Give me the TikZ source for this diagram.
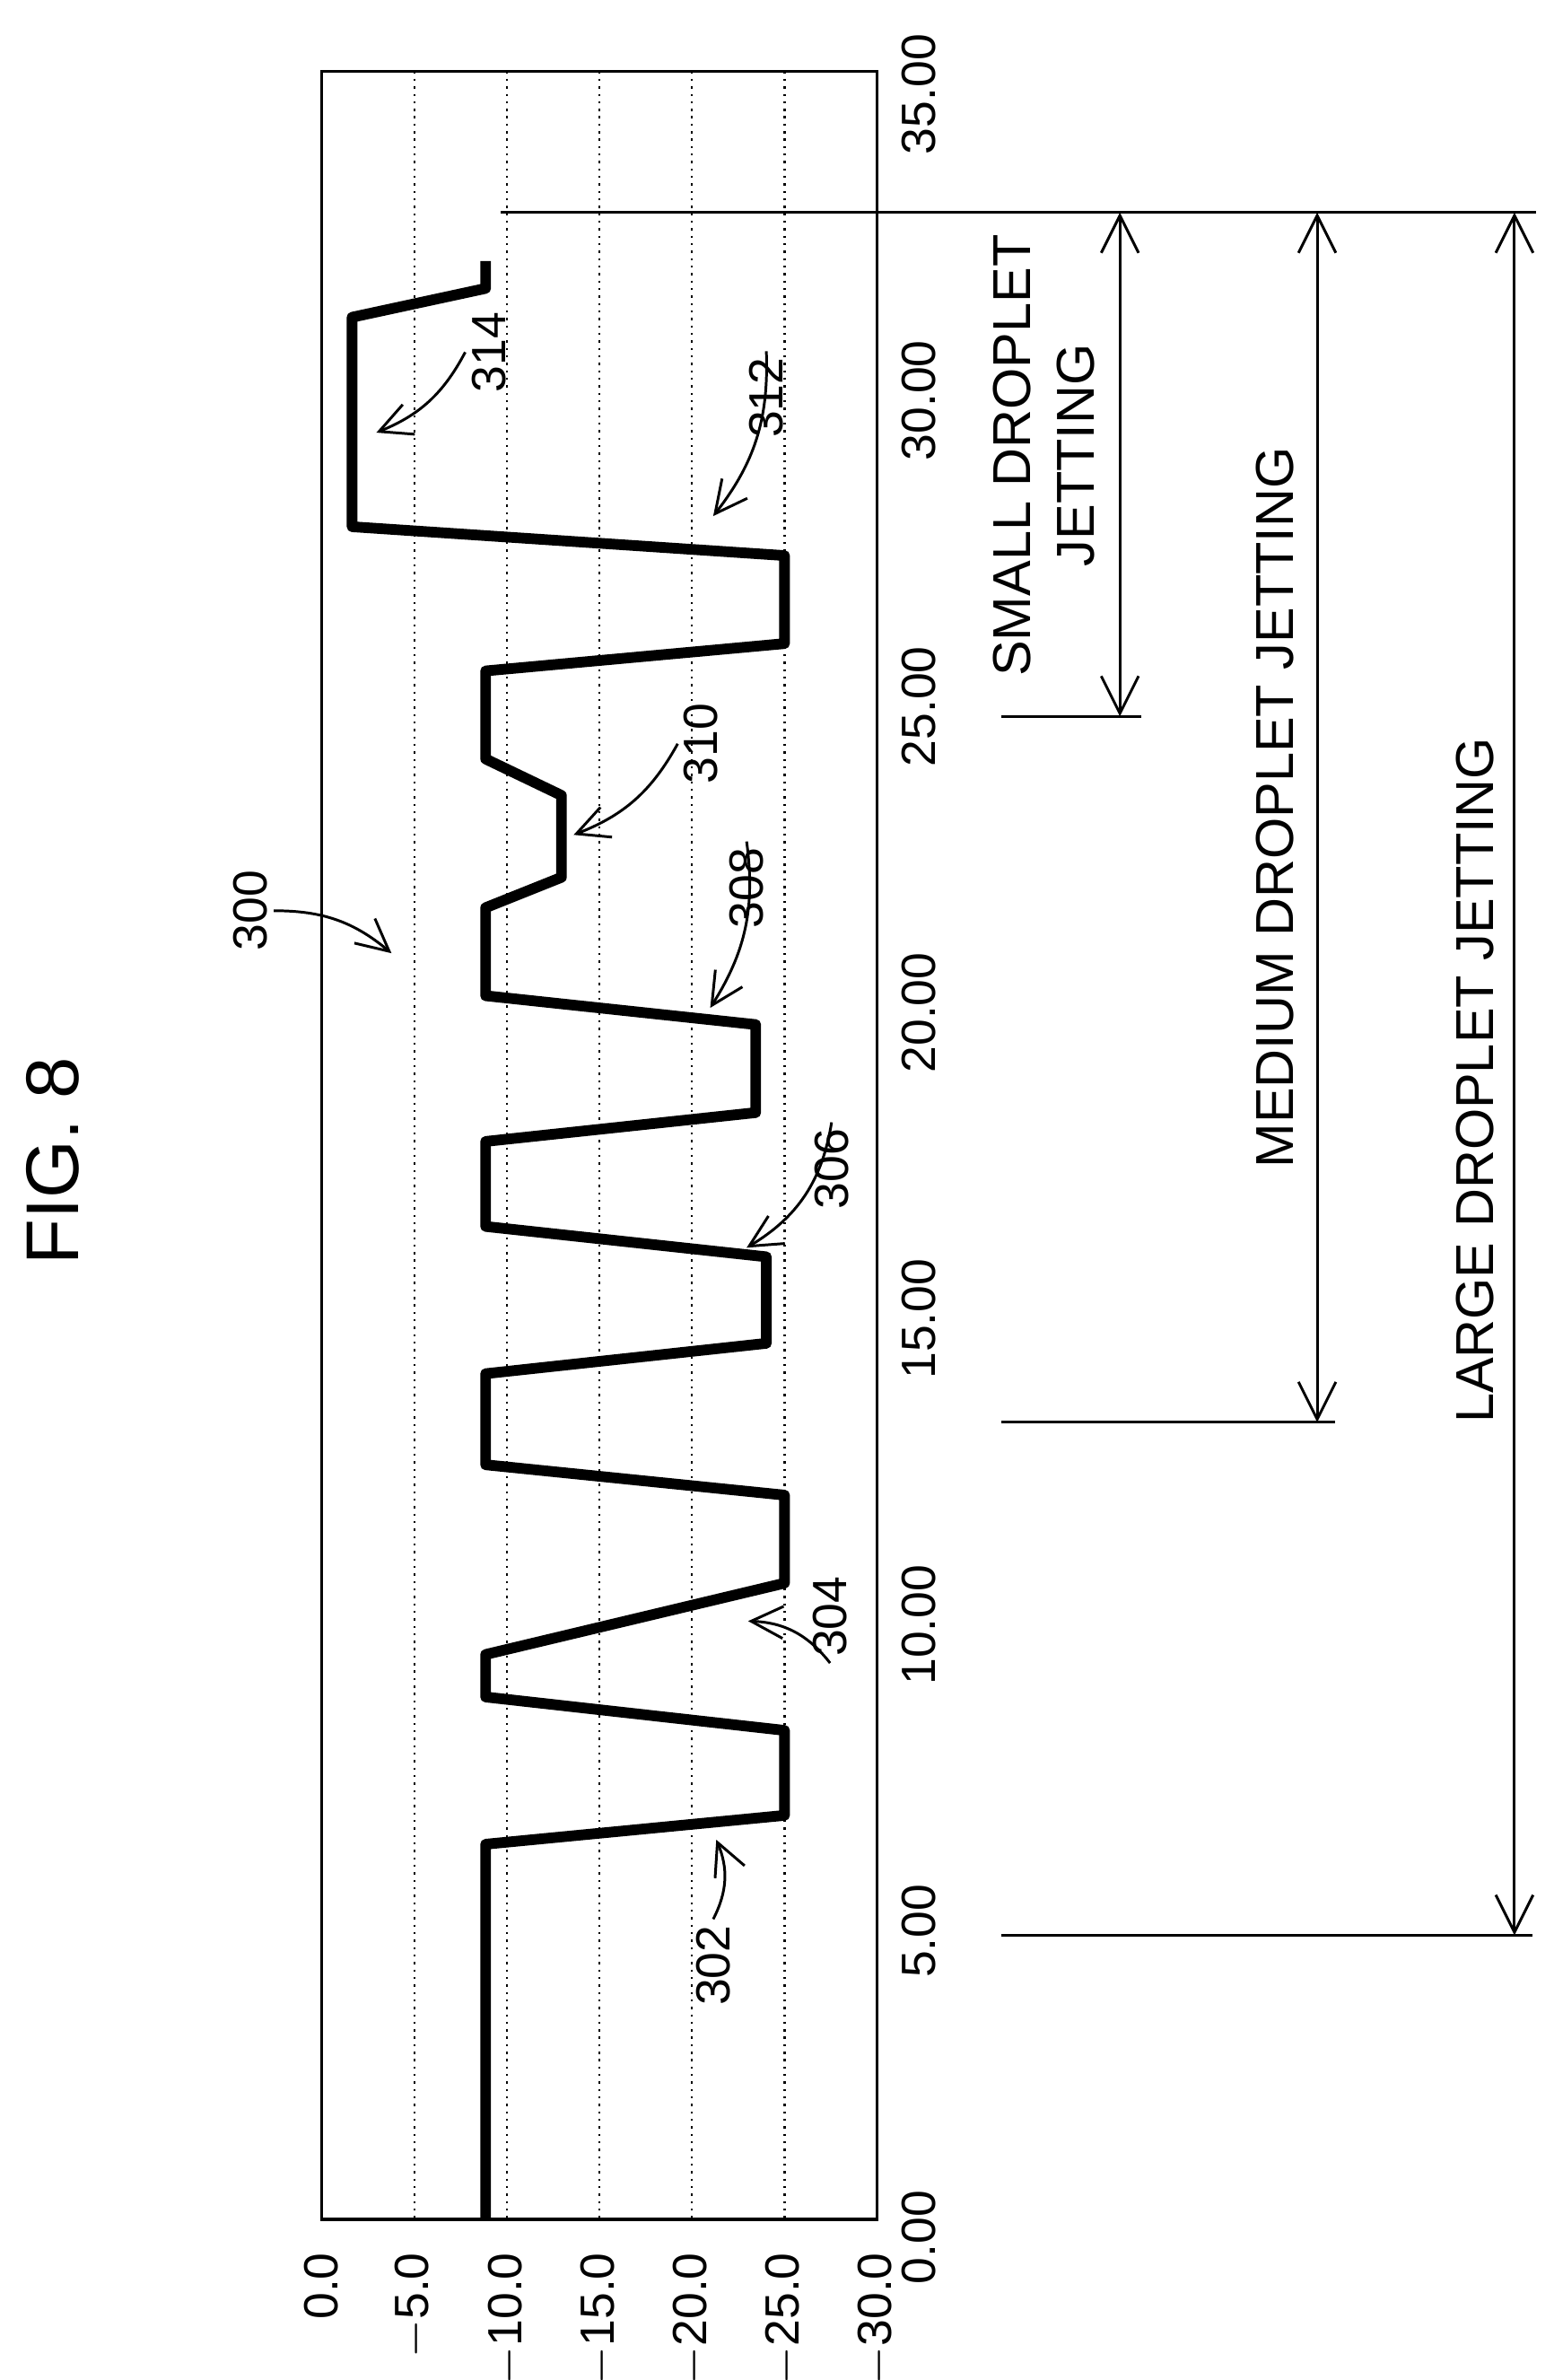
\documentclass[tikz,border=0pt]{standalone}
\usepackage{fontspec}
\setmainfont{Liberation Sans}
\usetikzlibrary{arrows.meta}
\begin{document}
\begin{tikzpicture}[x=0.01cm,y=-0.01cm,
  lbl/.style={rotate=90,font=\fontsize{9}{10}\selectfont,inner sep=1pt},
  ref/.style={-{Straight Barb[length=6pt,width=6pt]},line width=0.5pt},
  dim/.style={{Straight Barb[length=7pt,width=7pt]}-{Straight Barb[length=7pt,width=7pt]},line width=0.5pt}]
  \useasboundingbox (0,0) rectangle (1024,1568);
  \node[rotate=90,font=\fontsize{14}{16}\selectfont] (fig) at (35,765) {FIG. 8};

  % frame and grid
  \draw[line width=0.6pt] (212,47) rectangle (578,1462);
  \foreach \gx in {273,334,395,456,517}
    \draw[densely dotted,line width=0.4pt] (\gx,47) -- (\gx,1462);

  % voltage axis
  \foreach \gx/\v in {212/0.0,273/$-$5.0,334/$-$10.0,395/$-$15.0,456/$-$20.0,517/$-$25.0,578/$-$30.0}
    \node[lbl,anchor=east] at (\gx,1480) {\v};
  % time axis
  \foreach \t in {0,5,...,35}
    \node[lbl,anchor=north] at (590,1474-40.34*\t) {\t.00};

  % waveform
  \draw[line width=2pt,line join=round] (320,1462) -- (320,1215) -- (517,1196) -- (517,1140)
    -- (320,1118) -- (320,1090) -- (517,1043) -- (517,985) -- (320,965) -- (320,905)
    -- (505,885) -- (505,828) -- (320,808) -- (320,752) -- (498,733) -- (498,675)
    -- (320,656) -- (320,598) -- (370,578) -- (370,524) -- (320,500) -- (320,442)
    -- (517,424) -- (517,366) -- (232,347) -- (232,209) -- (320,190) -- (320,172);

  % reference numerals
  \node[lbl] (n300) at (165,600) {300};
  \node[lbl] (n302) at (470,1295) {302};
  \node[lbl] (n304) at (547,1065) {304};
  \node[lbl] (n306) at (548,770) {306};
  \node[lbl] (n308) at (492,585) {308};
  \node[lbl] (n310) at (462,490) {310};
  \node[lbl] (n312) at (505,262) {312};
  \node[lbl] (n314) at (322,232) {314};
  \coordinate (t300) at (258,628);
  \coordinate (t302) at (472,1212);
  \coordinate (t304) at (493,1068);
  \coordinate (t306) at (492,822);
  \coordinate (t308) at (468,664);
  \coordinate (t310) at (378,550);
  \coordinate (t312) at (470,340);
  \coordinate (t314) at (248,285);
  \draw[ref] (n300.south) to[bend left=20] (t300);
  \draw[ref] (n302.east) to[bend right=25] (t302);
  \draw[ref] (n304.west) to[bend right=25] (t304);
  \draw[ref] (n306.east) to[bend left=25] (t306);
  \draw[ref] (n308.east) to[bend left=20] (t308);
  \draw[ref] (n310.north) to[bend left=20] (t310);
  \draw[ref] (n312.east) to[bend left=20] (t312);
  \draw[ref] (n314.north) to[bend left=20] (t314);

  % jetting ranges
  \coordinate (top0) at (330,140);
  \coordinate (top1) at (1012,140);
  \draw[line width=0.5pt] (top0) -- (top1);
  \draw[line width=0.5pt] (660,472) -- (752,472);
  \draw[line width=0.5pt] (660,937) -- (880,937);
  \draw[line width=0.5pt] (660,1275) -- (1010,1275);
  \draw[dim] (738,140) -- (738,472);
  \draw[dim] (868,140) -- (868,937);
  \draw[dim] (998,140) -- (998,1275);
  \node[lbl,font=\fontsize{10}{12}\selectfont,align=center] (small) at (688,300) {SMALL DROPLET\\JETTING};
  \node[lbl,font=\fontsize{10}{12}\selectfont] (medium) at (840,532) {MEDIUM DROPLET JETTING};
  \node[lbl,font=\fontsize{10}{12}\selectfont] (large) at (972,712) {LARGE DROPLET JETTING};
\end{tikzpicture}
\end{document}
